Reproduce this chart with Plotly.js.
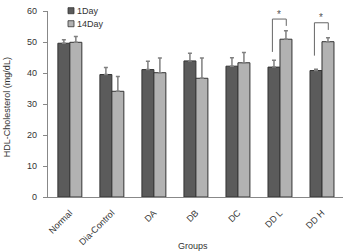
<!DOCTYPE html>
<html>
<head>
<meta charset="utf-8">
<script src="https://cdn.plot.ly/plotly-3.0.1.min.js"></script>
<style>
  html, body { margin: 0; padding: 0; background: #fff; }
  #chart { width: 345px; height: 252px; }
</style>
</head>
<body>
<div id="chart"></div>
<script>
// HDL-cholesterol by treatment group, measured on day 1 and day 14
const groups = ["Normal", "Dia-Control", "DA", "DB", "DC", "DD L", "DD H"];
const seriesNames = ["1Day", "14Day"];
const day1 = [49.6, 39.5, 41.1, 43.9, 42.2, 41.9, 40.8];
const day1Err = [1.1, 2.3, 2.7, 2.5, 2.7, 2.2, 0.4];
const day14 = [49.9, 34.1, 40.1, 38.3, 43.3, 50.9, 50.1];
const day14Err = [1.9, 4.8, 4.7, 6.5, 3.3, 2.7, 1.3];
// significance brackets: group index, left foot, right foot, top level
const sigGroups = [5, 6];
const sigLeftFoot = [46.8, 45.6];
const sigRightFoot = [55.2, 53.9];
const sigTop = [57.4, 56.2];
const sigMark = "*";

const darkFill = "#5b5b5b";
const lightFill = "#b2b2b2";
const edge = "#333333";
const errColor = "#808080";
const textColor = "#333333";
const font = { family: "Liberation Sans, Arial, sans-serif", size: 9, color: textColor };

const traces = [
  {
    type: "bar", name: seriesNames[0], x: groups, y: day1,
    marker: { color: darkFill, line: { color: edge, width: 1 } },
    error_y: { type: "data", array: day1Err, symmetric: false, arrayminus: day1Err.map(() => 0),
               color: errColor, thickness: 1.5, width: 2 }
  },
  {
    type: "bar", name: seriesNames[1], x: groups, y: day14,
    marker: { color: lightFill, line: { color: edge, width: 1 } },
    error_y: { type: "data", array: day14Err, symmetric: false, arrayminus: day14Err.map(() => 0),
               color: errColor, thickness: 1.5, width: 2 }
  }
];

// plot area in pixels: x 48..343, y 11..196.7
const L = 48, R = 343, T = 11, B = 196.7;
const px = v => (v - L) / (R - L);
const py = v => (B - v) / (B - T);

const shapes = [];
const annotations = [];

// brackets over the pairs, from the left bar to the right bar
const off = 0.15;
sigGroups.forEach((g, i) => {
  shapes.push({
    type: "path", xref: "x", yref: "y",
    path: `M ${g - off - 0.03},${sigLeftFoot[i]} L ${g - off - 0.03},${sigTop[i]} L ${g + off},${sigTop[i]} L ${g + off},${sigRightFoot[i]}`,
    line: { color: "#666", width: 1 }
  });
  annotations.push({
    xref: "x", yref: "y", x: g - 0.015, y: sigTop[i] + 1.6, text: sigMark, showarrow: false,
    font: { family: font.family, size: 10, color: "#555" }, xanchor: "center", yanchor: "middle"
  });
});

// legend swatches and labels
const fills = [darkFill, lightFill];
const legendRows = [10.7, 23.7];
seriesNames.forEach((name, i) => {
  const cy = legendRows[i];
  shapes.push({
    type: "rect", xref: "paper", yref: "paper",
    x0: px(68), x1: px(74), y0: py(cy - 3), y1: py(cy + 3),
    fillcolor: fills[i], line: { color: edge, width: 0.8 }
  });
  annotations.push({
    xref: "paper", yref: "paper", x: px(75), y: py(cy), text: name, showarrow: false,
    xanchor: "left", yanchor: "middle", font: font
  });
});

// axis titles
annotations.push({
  xref: "paper", yref: "paper", x: px(7), y: py(107), text: "HDL-Cholesterol (mg/dL)",
  textangle: -90, showarrow: false, xanchor: "center", yanchor: "middle", font: font
});
annotations.push({
  xref: "paper", yref: "paper", x: px(193), y: py(246), text: "Groups",
  showarrow: false, xanchor: "center", yanchor: "middle", font: font
});

const layout = {
  width: 345, height: 252,
  margin: { l: L, r: 345 - R, t: T, b: 252 - B, pad: 0 },
  paper_bgcolor: "#fff", plot_bgcolor: "#fff",
  showlegend: false,
  barmode: "group", bargap: 0.43, bargroupgap: 0,
  font: font,
  xaxis: {
    type: "category", range: [-0.52, 6.5], tickangle: -45,
    showline: true, linecolor: "#888", linewidth: 1.2,
    ticks: "", showgrid: false, zeroline: false, tickfont: font,
    ticklabelstandoff: 6
  },
  yaxis: {
    range: [0, 60], tickvals: [0, 10, 20, 30, 40, 50, 60],
    showline: true, linecolor: "#888", linewidth: 1.2,
    ticks: "outside", ticklen: 4, tickcolor: "#888",
    showgrid: false, zeroline: false, tickfont: font,
    ticklabelstandoff: 4
  },
  shapes: shapes,
  annotations: annotations
};

Plotly.newPlot("chart", traces, layout, { staticPlot: true, displayModeBar: false });
</script>
</body>
</html>
